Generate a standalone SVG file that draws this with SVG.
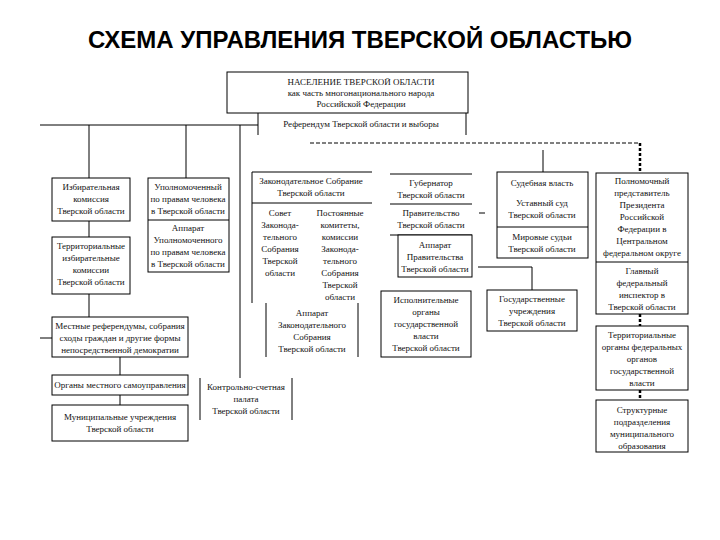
<svg xmlns="http://www.w3.org/2000/svg" width="720" height="540" viewBox="0 0 720 540">
<style>
.bg{fill:#fff}
.box{fill:#fff;stroke:#000;stroke-width:1}
.ln{stroke:#000;stroke-width:1;fill:none}
.dash{stroke:#000;stroke-width:1;stroke-dasharray:4 2;fill:none}
.dash2{stroke:#000;stroke-width:2.5;stroke-dasharray:3 2;fill:none}
text{font-family:"Liberation Serif","DejaVu Serif",serif;font-size:9px;fill:#111;text-anchor:middle}
.title{font-family:"Liberation Sans",Arial,sans-serif;font-size:24px;font-weight:bold;fill:#000}
</style>
<rect class="bg" x="0" y="0" width="720" height="540"/>
<text class="title" x="360" y="48">СХЕМА УПРАВЛЕНИЯ ТВЕРСКОЙ ОБЛАСТЬЮ</text>

<g id="connectors">
<line class="ln" x1="40" y1="125" x2="258" y2="125"/>
<line class="ln" x1="258" y1="113" x2="258" y2="135"/>
<line class="ln" x1="466" y1="113" x2="466" y2="135"/>
<line class="ln" x1="89" y1="125" x2="89" y2="178"/>
<line class="ln" x1="186" y1="125" x2="186" y2="178"/>
<line class="ln" x1="240" y1="125" x2="240" y2="378"/>
<line class="ln" x1="89" y1="221" x2="89" y2="237"/>
<line class="ln" x1="89" y1="294" x2="89" y2="317"/>
<line class="ln" x1="40" y1="338" x2="52" y2="338"/>
<line class="ln" x1="120" y1="357" x2="120" y2="375"/>
<line class="ln" x1="120" y1="395" x2="120" y2="405"/>
<line class="ln" x1="543" y1="150" x2="543" y2="172"/>
<line class="ln" x1="479" y1="213" x2="485" y2="213"/>
<polyline class="ln" points="478,267 532,267 532,290"/>
<line class="dash" x1="310" y1="143" x2="640" y2="143"/>
<line class="dash2" x1="640" y1="143" x2="640" y2="173"/>
<line class="dash2" x1="640" y1="314" x2="640" y2="326"/>
<line class="dash2" x1="640" y1="390" x2="640" y2="400"/>
</g>

<g id="population">
<rect class="box" x="227" y="72" width="241" height="41"/>
<text x="361" y="85">НАСЕЛЕНИЕ ТВЕРСКОЙ ОБЛАСТИ</text>
<text x="361" y="96">как часть многонационального народа</text>
<text x="361" y="107">Российской Федерации</text>
</g>

<g id="referendum">
<text x="361" y="127">Референдум Тверской области и выборы</text>
</g>

<g id="election-commission">
<rect class="box" x="52" y="178" width="78" height="43"/>
<text x="91" y="190">Избирательная</text>
<text x="91" y="202">комиссия</text>
<text x="91" y="214">Тверской области</text>
</g>

<g id="territorial-commissions">
<rect class="box" x="52" y="237" width="78" height="57"/>
<text x="91" y="249">Территориальные</text>
<text x="91" y="261">избирательные</text>
<text x="91" y="273">комиссии</text>
<text x="91" y="285">Тверской области</text>
</g>

<g id="ombudsman">
<rect class="box" x="148" y="178" width="81" height="94"/>
<line class="ln" x1="148" y1="220" x2="229" y2="220"/>
<text x="188" y="190">Уполномоченный</text>
<text x="188" y="202">по правам человека</text>
<text x="188" y="214">в Тверской области</text>
<text x="188" y="231">Аппарат</text>
<text x="188" y="243">Уполномоченного</text>
<text x="188" y="255">по правам человека</text>
<text x="188" y="267">в Тверской области</text>
</g>

<g id="local-democracy">
<rect class="box" x="52" y="317" width="136" height="40"/>
<text x="120" y="329">Местные референдумы, собрания</text>
<text x="120" y="341">сходы граждан и другие формы</text>
<text x="120" y="353">непосредственной демократии</text>
</g>

<g id="local-government">
<rect class="box" x="52" y="375" width="136" height="20"/>
<text x="120" y="388">Органы местного самоуправления</text>
</g>

<g id="municipal-institutions">
<rect class="box" x="52" y="405" width="136" height="36"/>
<text x="120" y="420">Муниципальные учреждения</text>
<text x="120" y="432">Тверской области</text>
</g>

<g id="legislative-assembly">
<line class="ln" x1="252" y1="172" x2="372" y2="172"/>
<line class="ln" x1="252" y1="203" x2="372" y2="203"/>
<line class="ln" x1="252" y1="172" x2="252" y2="303"/>
<text x="311" y="184">Законодательное Собрание</text>
<text x="311" y="196">Тверской области</text>
<text x="280" y="216">Совет</text>
<text x="280" y="228">Законода-</text>
<text x="280" y="240">тельного</text>
<text x="280" y="252">Собрания</text>
<text x="280" y="264">Тверской</text>
<text x="280" y="276">области</text>
<text x="340" y="216">Постоянные</text>
<text x="340" y="228">комитеты,</text>
<text x="340" y="240">комиссии</text>
<text x="340" y="252">Законода-</text>
<text x="340" y="264">тельного</text>
<text x="340" y="276">Собрания</text>
<text x="340" y="288">Тверской</text>
<text x="340" y="300">области</text>
</g>

<g id="assembly-staff">
<line class="ln" x1="266" y1="303" x2="266" y2="357"/>
<line class="ln" x1="358" y1="303" x2="358" y2="357"/>
<text x="312" y="316">Аппарат</text>
<text x="312" y="328">Законодательного</text>
<text x="312" y="340">Собрания</text>
<text x="312" y="352">Тверской области</text>
</g>

<g id="audit-chamber">
<line class="ln" x1="200" y1="378" x2="200" y2="420"/>
<line class="ln" x1="292" y1="378" x2="292" y2="420"/>
<text x="246" y="390">Контрольно-счетная</text>
<text x="246" y="402">палата</text>
<text x="246" y="414">Тверской области</text>
</g>

<g id="governor">
<line class="ln" x1="390" y1="174" x2="472" y2="174"/>
<text x="431" y="186">Губернатор</text>
<text x="431" y="198">Тверской области</text>
</g>

<g id="government">
<line class="ln" x1="390" y1="204" x2="472" y2="204"/>
<line class="ln" x1="390" y1="235" x2="472" y2="235"/>
<text x="431" y="216">Правительство</text>
<text x="431" y="228">Тверской области</text>
</g>

<g id="government-staff">
<rect class="box" x="398" y="235" width="74" height="42"/>
<text x="435" y="248">Аппарат</text>
<text x="435" y="260">Правительства</text>
<text x="435" y="272">Тверской области</text>
</g>

<g id="executive-bodies">
<rect class="box" x="381" y="291" width="90" height="66"/>
<text x="426" y="303">Исполнительные</text>
<text x="426" y="315">органы</text>
<text x="426" y="327">государственной</text>
<text x="426" y="339">власти</text>
<text x="426" y="351">Тверской области</text>
</g>

<g id="state-institutions">
<rect class="box" x="487" y="290" width="90" height="41"/>
<text x="532" y="302">Государственные</text>
<text x="532" y="314">учреждения</text>
<text x="532" y="326">Тверской области</text>
</g>

<g id="judiciary">
<rect class="box" x="497" y="172" width="91" height="86"/>
<line class="ln" x1="497" y1="227" x2="588" y2="227"/>
<text x="542" y="186">Судебная власть</text>
<text x="542" y="206">Уставный суд</text>
<text x="542" y="218">Тверской области</text>
<text x="542" y="240">Мировые судьи</text>
<text x="542" y="252">Тверской области</text>
</g>

<g id="presidential-envoy">
<rect class="box" x="596" y="173" width="92" height="141"/>
<line class="ln" x1="596" y1="262" x2="688" y2="262"/>
<text x="642" y="184">Полномочный</text>
<text x="642" y="196">представитель</text>
<text x="642" y="208">Президента</text>
<text x="642" y="220">Российской</text>
<text x="642" y="232">Федерации в</text>
<text x="642" y="244">Центральном</text>
<text x="642" y="256">федеральном округе</text>
<text x="642" y="274">Главный</text>
<text x="642" y="286">федеральный</text>
<text x="642" y="298">инспектор в</text>
<text x="642" y="310">Тверской области</text>
</g>

<g id="federal-bodies">
<rect class="box" x="596" y="326" width="92" height="64"/>
<text x="642" y="338">Территориальные</text>
<text x="642" y="350">органы федеральных</text>
<text x="642" y="362">органов</text>
<text x="642" y="374">государственной</text>
<text x="642" y="386">власти</text>
</g>

<g id="municipal-units">
<rect class="box" x="596" y="400" width="92" height="52"/>
<text x="642" y="413">Структурные</text>
<text x="642" y="425">подразделения</text>
<text x="642" y="437">муниципального</text>
<text x="642" y="449">образования</text>
</g>
</svg>
